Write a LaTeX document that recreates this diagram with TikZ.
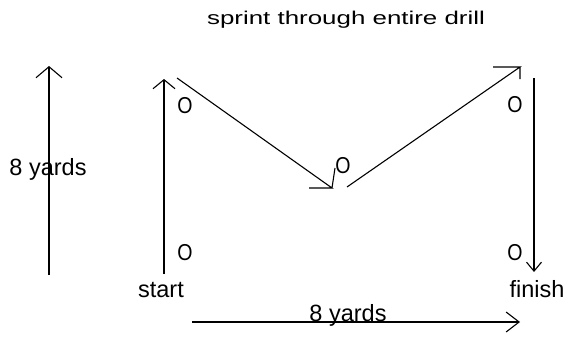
\documentclass[tikz,border=0pt]{standalone}
\usepackage{fontspec}
\setmainfont{Liberation Sans}
\usetikzlibrary{arrows.meta}
\begin{document}
\begin{tikzpicture}[x=1pt,y=-1pt,
  line/.style={line width=1.1pt,black},
  lbl/.style={inner sep=0pt,anchor=base,font=\fontsize{23.5}{26}\selectfont},
  oo/.style={inner sep=0pt,anchor=base,font=\fontsize{23}{26}\selectfont},
  ttl/.style={inner sep=0pt,anchor=base,font=\fontsize{18.5}{22}\selectfont}]
\useasboundingbox[fill=white] (0,0) rectangle (570,337);
% coordinates
\coordinate (Lb) at (49,275); \coordinate (Lt) at (49,66);
\coordinate (Sb) at (164,274); \coordinate (St) at (164,79);
\coordinate (D1a) at (177,78); \coordinate (D1b) at (332,188);
\coordinate (D2a) at (347,187); \coordinate (D2b) at (520,67);
\coordinate (Rt) at (534,78); \coordinate (Rb) at (534,272);
\coordinate (Bl) at (192,322); \coordinate (Br) at (520,322);
% arrows
\draw[line,-{Straight Barb[length=11pt,width=26pt]}] (Lb) -- (Lt);
\draw[line,-{Straight Barb[length=9pt,width=22pt]}] (Sb) -- (St);
\draw[line,line join=miter] (D1a) -- (D1b) -- ++(-23,0) (D1b) -- ++(3,-20);
\draw[line,line join=miter] (D2a) -- (D2b) -- ++(-27,0) (D2b) -- ++(0,12);
\draw[line,-{Straight Barb[length=9pt,width=15pt]}] (Rt) -- (Rb);
\draw[line,-{Straight Barb[length=13pt,width=20pt]}] (Bl) -- (Br);
% texts
\node[ttl] (title) at (346,25) {\scalebox{1.4}[1]{sprint through entire drill}};
\node[lbl] (yl) at (48,175) {8 yards};
\node[lbl] (yb) at (348,321) {8 yards};
\node[lbl] (start) at (161,297) {start};
\node[lbl] (finish) at (537,297) {finish};
\node[oo] (o1) at (185,113) {\scalebox{0.85}[1]{O}};
\node[oo] (o2) at (185,260) {\scalebox{0.85}[1]{O}};
\node[oo] (o3) at (343,173) {\scalebox{0.85}[1]{O}};
\node[oo] (o4) at (515,112) {\scalebox{0.85}[1]{O}};
\node[oo] (o5) at (515,260) {\scalebox{0.85}[1]{O}};
\end{tikzpicture}
\end{document}
